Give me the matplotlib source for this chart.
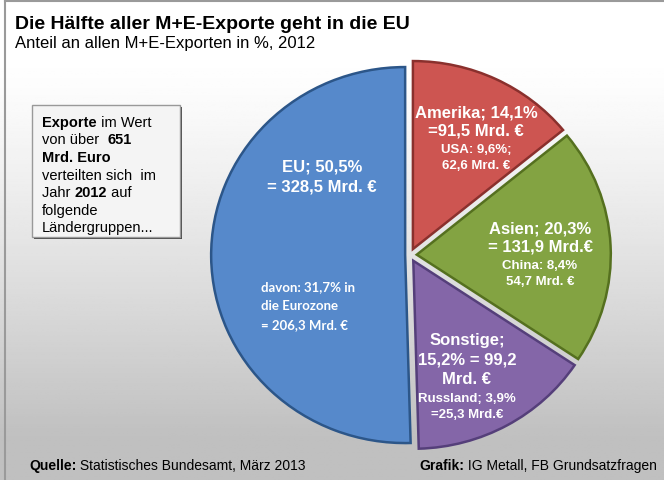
import numpy as np
import matplotlib.pyplot as plt
from matplotlib.patches import Rectangle

# --- data ---
regions = ['Amerika', 'Asien', 'Sonstige', 'EU']
shares = [14.1, 20.3, 15.2, 50.5]
colors = ['#CD5551', '#83A342', '#8466A8', '#5689CB']
edge_colors = ['#8A302D', '#55701F', '#553F7A', '#2C5689']
explode = [0.035, 0.035, 0.035, 0.025]

title = 'Die Hälfte aller M+E-Exporte geht in die EU'
subtitle = 'Anteil an allen M+E-Exporten in %, 2012'

box_lines = [
    [('Exporte', 'bold'), (' im Wert', 'normal')],
    [('von über  ', 'normal'), ('651', 'bold')],
    [('Mrd. Euro', 'bold')],
    [('verteilten sich  im', 'normal')],
    [('Jahr ', 'normal'), ('2012', 'bold'), (' auf', 'normal')],
    [('folgende', 'normal')],
    [('Ländergruppen...', 'normal')],
]

labels_main = {
    'EU': ['EU; 50,5%', '= 328,5 Mrd. €'],
    'Amerika': ['Amerika; 14,1%', '=91,5 Mrd. €'],
    'Asien': ['Asien; 20,3%', '= 131,9 Mrd.€'],
    'Sonstige': ['Sonstige;', '15,2% = 99,2', 'Mrd. €'],
}
labels_detail = {
    'Amerika': ['USA: 9,6%;', '62,6 Mrd. €'],
    'Asien': ['China: 8,4%', '54,7 Mrd. €'],
    'Sonstige': ['Russland; 3,9%', '=25,3 Mrd.€'],
}
eu_detail = ['davon: 31,7% in', 'die Eurozone', '= 206,3 Mrd. €']

source = [('Quelle:', 'bold'), (' Statistisches Bundesamt, März 2013', 'normal')]
credit = [('Grafik:', 'bold'), (' IG Metall, FB Grundsatzfragen', 'normal')]

W, H = 664, 480
plt.rcParams['font.family'] = ['Liberation Sans', 'DejaVu Sans']
fig = plt.figure(figsize=(W / 100, H / 100), dpi=100)

# background axes in pixel coordinates
bg = fig.add_axes([0, 0, 1, 1])
bg.set_xlim(0, W)
bg.set_ylim(H, 0)
bg.axis('off')
yy = np.linspace(0, 1, 200)[:, None]
grad = 1.0 - 0.25 * np.clip((yy - 0.12) / 0.8, 0, 1) ** 1.2
bg.imshow(np.repeat(grad, 2, axis=1), cmap='gray', vmin=0, vmax=1,
          extent=[0, W, H, 0], aspect='auto', zorder=0)
bg.plot([5, 5], [0, H], color='#9a9a9a', lw=1.5, zorder=1)
bg.plot([5, W], [1, 1], color='#9a9a9a', lw=1.5, zorder=1)

bg.text(15, 29, title, fontsize=14, weight='bold', color='black')
bg.text(15, 48, subtitle, fontsize=12, color='black')

# info box with shadow
bg.add_patch(Rectangle((34, 107), 148, 132, facecolor='#4a4a4a', edgecolor='none', zorder=2))
bg.add_patch(Rectangle((32, 105), 148, 132, facecolor='#f4f4f4', edgecolor='#999999', lw=1, zorder=3))


def rich_line(ax, x, y, parts, size, **kw):
    t = ax.text(x, y, parts[0][0], fontsize=size, weight=parts[0][1], va='baseline', zorder=4, **kw)
    for s, w in parts[1:]:
        t = ax.annotate(s, xy=(1, 0), xycoords=t, va='bottom', ha='left',
                        fontsize=size, weight=w, zorder=4, **kw)
    return t


for i, parts in enumerate(box_lines):
    rich_line(bg, 42, 127 + i * 17.5, parts, 10.5)

rich_line(bg, 29, 470, source, 10)
rich_line(bg, 419, 470, credit, 10)

# pie axes (slightly wider than tall)
cx, cy, rx, ry = 410, 255, 194, 188
pw, ph = 2 * 1.1 * rx, 2 * 1.1 * ry
ax = fig.add_axes([(cx - pw / 2) / W, (H - cy - ph / 2) / H, pw / W, ph / H])
wedges, _ = ax.pie(shares, startangle=90, counterclock=False, colors=colors,
                   explode=explode, wedgeprops=dict(linewidth=1.8))
for wdg, ec in zip(wedges, edge_colors):
    wdg.set_edgecolor(ec)
ax.set_aspect('auto')
ax.set_xlim(-1.1, 1.1)
ax.set_ylim(-1.1, 1.1)
ax.axis('off')

# overlay axes for the labels
ov = fig.add_axes([0, 0, 1, 1])
ov.set_xlim(0, W)
ov.set_ylim(H, 0)
ov.axis('off')

label_pos = {'EU': (322, 172), 'Amerika': (476, 117), 'Asien': (540, 233), 'Sonstige': (467, 345)}
line_gap = {'EU': 19, 'Amerika': 19, 'Asien': 19, 'Sonstige': 19.5}
for name, (x, y) in label_pos.items():
    lines = labels_main[name]
    for j, s in enumerate(lines):
        ov.text(x, y + j * line_gap[name], s, fontsize=12, weight='bold', color='white', ha='center')
    y2 = y + len(lines) * line_gap[name] - 2
    for j, s in enumerate(labels_detail.get(name, [])):
        ov.text(x, y2 + j * 16, s, fontsize=9.5, weight='bold', color='white', ha='center')

for j, s in enumerate(eu_detail):
    ov.text(261, 291 + j * 19, s, fontsize=9.5, weight='bold', color='white',
            family=['Lato', 'DejaVu Sans'])

fig.savefig('out.png', dpi=100)
